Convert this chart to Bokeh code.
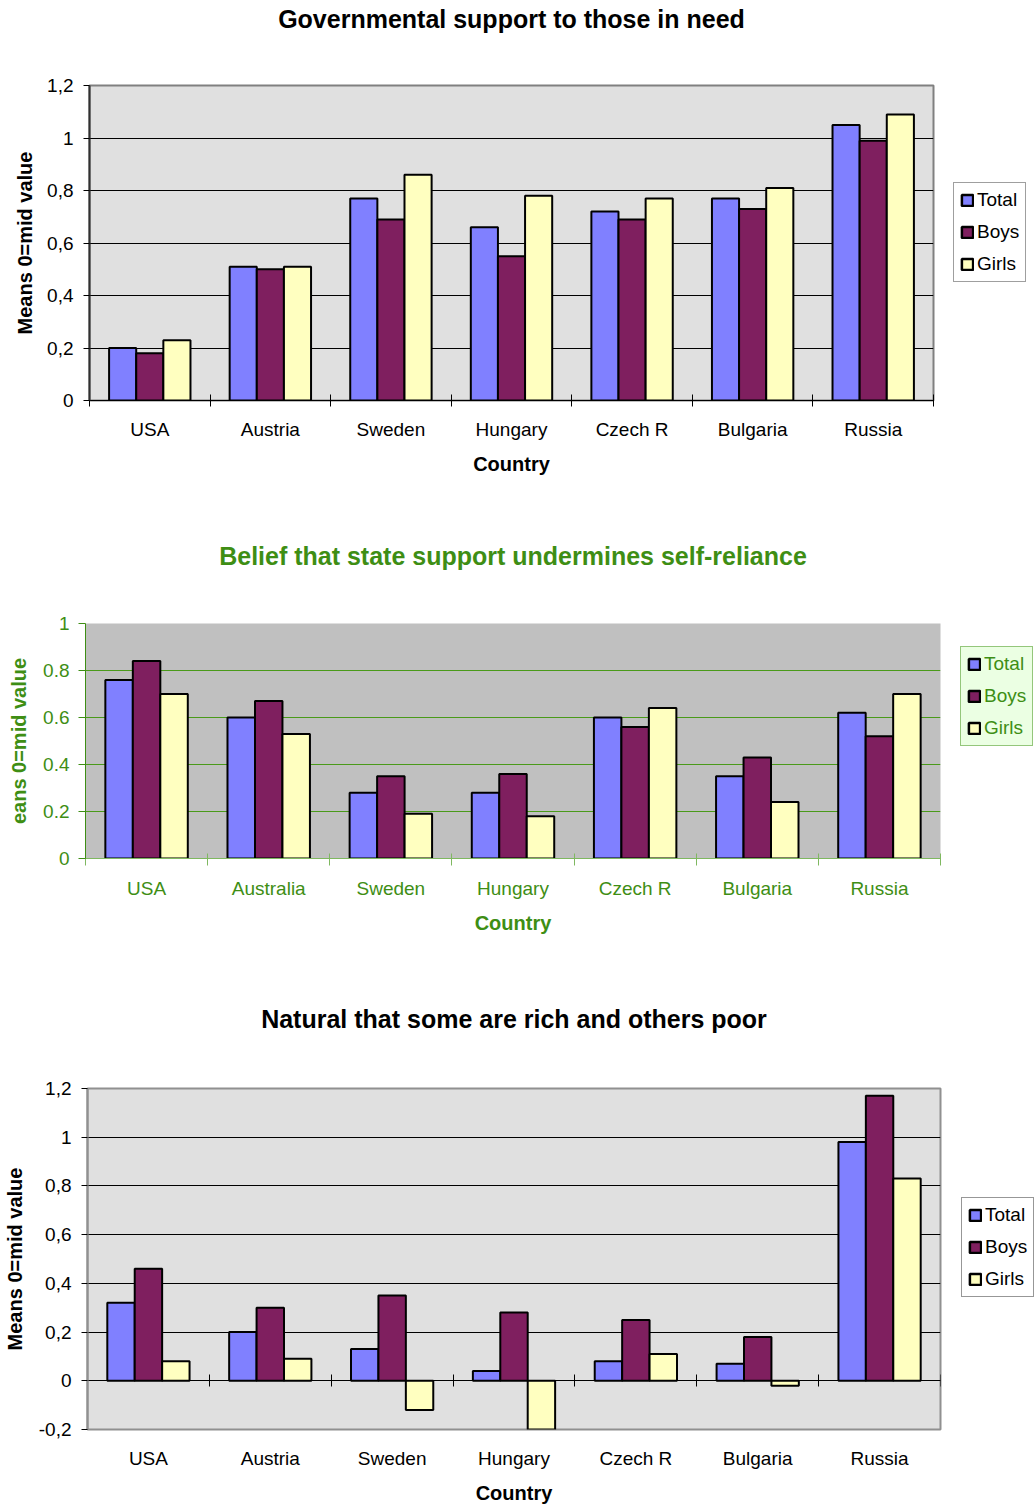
from bokeh.plotting import figure
from bokeh.models import (Range1d, FixedTicker, CustomJSTickFormatter, Legend,
                          LegendItem, LinearAxis)
from bokeh.layouts import column, row
from bokeh.embed import file_html
from bokeh.resources import INLINE

# ---------------- data ----------------
countries_1 = ["USA", "Austria", "Sweden", "Hungary", "Czech R", "Bulgaria", "Russia"]
total_1 = [0.20, 0.51, 0.77, 0.66, 0.72, 0.77, 1.05]
boys_1 = [0.18, 0.50, 0.69, 0.55, 0.69, 0.73, 0.99]
girls_1 = [0.23, 0.51, 0.86, 0.78, 0.77, 0.81, 1.09]

countries_2 = ["USA", "Australia", "Sweden", "Hungary", "Czech R", "Bulgaria", "Russia"]
total_2 = [0.76, 0.60, 0.28, 0.28, 0.60, 0.35, 0.62]
boys_2 = [0.84, 0.67, 0.35, 0.36, 0.56, 0.43, 0.52]
girls_2 = [0.70, 0.53, 0.19, 0.18, 0.64, 0.24, 0.70]

countries_3 = ["USA", "Austria", "Sweden", "Hungary", "Czech R", "Bulgaria", "Russia"]
total_3 = [0.32, 0.20, 0.13, 0.04, 0.08, 0.07, 0.98]
boys_3 = [0.46, 0.30, 0.35, 0.28, 0.25, 0.18, 1.17]
girls_3 = [0.08, 0.09, -0.12, -0.20, 0.11, -0.02, 0.83]

series_names = ["Total", "Boys", "Girls"]
yticks_1 = [0, 0.2, 0.4, 0.6, 0.8, 1.0, 1.2]
yticks_2 = [0, 0.2, 0.4, 0.6, 0.8, 1.0]
yticks_3 = [-0.2, 0, 0.2, 0.4, 0.6, 0.8, 1.0, 1.2]

COLORS = ["#8080FF", "#7F1F5F", "#FFFFC0"]
FONT = "Liberation Sans"
GREEN = "#3E8E14"


def build(cats, values, title, yr, yticks, gridticks, comma, txt, frame_bg,
          height, main_w, leg_w, b_top, b_bottom, b_left, title_standoff,
          leg_loc, leg_border, leg_bg, ylabel, ylab_standoff, ytick_standoff,
          outline, yaxis_color, yaxis_w, xaxis_color, grid_color,
          zero_axis=False, xtick_in=6, xtick_out=6, ytick_out=6):
    n = len(cats)
    p = figure(width=main_w, height=height, output_backend="svg",
               toolbar_location=None, x_range=Range1d(0, n),
               y_range=Range1d(*yr), min_border_top=b_top,
               min_border_bottom=b_bottom, min_border_left=b_left,
               min_border_right=2)
    p.background_fill_color = frame_bg
    p.border_fill_color = "white"
    if outline:
        p.outline_line_color = outline
        p.outline_line_width = 2
    else:
        p.outline_line_color = None

    offsets = [-0.225, 0.0, 0.225]
    for k, vals in enumerate(values):
        xs = [i + 0.5 + offsets[k] for i in range(n)]
        p.vbar(x=xs, top=vals, bottom=0, width=0.225,
               fill_color=COLORS[k], line_color="black", line_width=2)

    # grid
    p.xgrid.grid_line_color = None
    p.ygrid.ticker = FixedTicker(ticks=gridticks)
    p.ygrid.grid_line_color = grid_color
    p.ygrid.grid_line_width = 1

    # y axis
    yax = p.yaxis[0]
    yax.ticker = FixedTicker(ticks=yticks)
    yax.formatter = CustomJSTickFormatter(
        args=dict(comma=comma),
        code="const s = String(Math.round(tick*10)/10); return comma ? s.replace('.', ',') : s;")
    yax.major_label_text_font = FONT
    yax.major_label_text_font_size = "19px"
    yax.major_label_text_color = txt
    yax.major_label_standoff = ytick_standoff
    yax.major_tick_in = 0
    yax.major_tick_out = ytick_out
    yax.major_tick_line_color = "black" if txt == "black" else GREEN
    yax.minor_tick_line_color = None
    yax.axis_line_color = yaxis_color
    yax.axis_line_width = yaxis_w
    yax.axis_label = ylabel
    yax.axis_label_text_font = FONT
    yax.axis_label_text_font_size = "20px"
    yax.axis_label_text_font_style = "bold"
    yax.axis_label_text_color = txt
    yax.axis_label_standoff = ylab_standoff

    # x axis
    xax = p.xaxis[0]
    bounds = list(range(n + 1))
    centers = [i + 0.5 for i in range(n)]
    xax.ticker = FixedTicker(ticks=centers, minor_ticks=bounds)
    xax.formatter = CustomJSTickFormatter(
        args=dict(names=cats), code="return names[Math.floor(tick)] || '';")
    xax.major_label_text_font = FONT
    xax.major_label_text_font_size = "19px"
    xax.major_label_text_color = txt
    xax.major_label_standoff = 12
    xax.major_tick_in = 0
    xax.major_tick_out = 0
    xax.axis_label = "Country"
    xax.axis_label_text_font = FONT
    xax.axis_label_text_font_size = "20px"
    xax.axis_label_text_font_style = "bold"
    xax.axis_label_text_color = txt
    xax.axis_label_standoff = 10
    xax.minor_tick_in = xtick_in
    xax.minor_tick_out = xtick_out
    if zero_axis:
        xax.axis_line_color = None
        xax.minor_tick_line_color = None
        zax = LinearAxis(fixed_location=0,
                         ticker=FixedTicker(ticks=[], minor_ticks=bounds),
                         major_label_text_font_size="0px",
                         major_label_standoff=0,
                         axis_line_color="black", minor_tick_in=6,
                         minor_tick_out=6, minor_tick_line_color="black",
                         major_tick_in=0, major_tick_out=0,
                         major_tick_line_color=None)
        p.add_layout(zax, "above")
    else:
        xax.axis_line_color = xaxis_color
        xax.axis_line_width = 1
        xax.minor_tick_line_color = xaxis_color

    # chart title, drawn as the label of an empty top axis
    tax = LinearAxis(ticker=FixedTicker(ticks=[]), axis_label=title,
                     axis_label_standoff=title_standoff,
                     axis_label_text_font=FONT,
                     axis_label_text_font_size="25px",
                     axis_label_text_font_style="bold",
                     axis_label_text_color=txt, axis_line_color=None,
                     major_tick_line_color=None, minor_tick_line_color=None,
                     major_tick_in=0, major_tick_out=0, minor_tick_in=0,
                     minor_tick_out=0, major_label_standoff=0,
                     major_label_text_font_size="0px")
    p.add_layout(tax, "above")

    # legend panel (its frame is aligned with the chart's frame)
    lp = figure(width=leg_w, height=height, output_backend="svg",
                toolbar_location=None, x_range=Range1d(0, n),
                y_range=Range1d(*yr), min_border=0,
                x_axis_location=None, y_axis_location=None)
    lp.outline_line_color = None
    lp.background_fill_color = "white"
    lp.border_fill_color = "white"
    lp.xgrid.grid_line_color = None
    lp.ygrid.grid_line_color = None
    proxies = []
    for k, vals in enumerate(values):
        xs = [i + 0.5 + offsets[k] for i in range(n)]
        r = lp.vbar(x=xs, top=vals, bottom=0, width=0.225,
                    fill_color=COLORS[k], line_color="black", line_width=2.5,
                    visible=False)
        proxies.append(r)
    items = [LegendItem(label=series_names[k], renderers=[proxies[k]])
             for k in range(3)]
    leg = Legend(items=items, location=leg_loc, orientation="vertical",
                 label_text_font=FONT, label_text_font_size="19px",
                 label_text_color=txt, glyph_width=14, glyph_height=14,
                 label_height=20, label_standoff=3, spacing=10, padding=6,
                 margin=0, border_line_color=leg_border, border_line_width=1,
                 background_fill_color=leg_bg, background_fill_alpha=1.0,
                 inactive_fill_alpha=0.0)
    lp.add_layout(leg)
    return row(p, lp, spacing=0)


c1 = build(countries_1, [total_1, boys_1, girls_1],
           "Governmental support to those in need", (0, 1.2), yticks_1,
           [0.2, 0.4, 0.6, 0.8, 1.0], True, "black", "#E0E0E0",
           490, 935, 99, 85, 90, 89, 53, (18, 118), "#404040", "white",
           "Means 0=mid value", 8, 10, "#808080", "#303030", 2, "black",
           "black")

c2 = build(countries_2, [total_2, boys_2, girls_2],
           "Belief that state support undermines self-reliance", (0, 1.0),
           yticks_2, [0.2, 0.4, 0.6, 0.8], False, GREEN, "#C0C0C0",
           470, 942, 92, 133, 102, 85, 54, (18, 112), GREEN, "#EBFFE3",
           "eans 0=mid value", 10, 9, None, GREEN, 1, "#7FB860", "#4A9A1A",
           xtick_in=5, xtick_out=7, ytick_out=7)

c3 = build(countries_3, [total_3, boys_3, girls_3],
           "Natural that some are rich and others poor", (-0.2, 1.2),
           yticks_3, [0, 0.2, 0.4, 0.6, 0.8, 1.0], True, "black", "#E0E0E0",
           546, 942, 92, 128, 76, 86, 56, (19, 132), "#303030", "white",
           "Means 0=mid value", 10, 10, "#909090", "#909090", 2, "black",
           "black", zero_axis=True)

layout = column(c1, c2, c3, spacing=0)
open("out.html", "w").write(file_html(layout, INLINE))
